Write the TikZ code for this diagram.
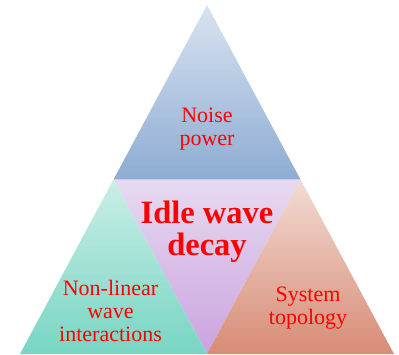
\documentclass[tikz,border=0pt]{standalone}
\usepackage{fontspec}
\setmainfont{Liberation Serif}
\definecolor{topA}{HTML}{D9E3F0}
\definecolor{topB}{HTML}{8DACD3}
\definecolor{midA}{HTML}{E7DAF0}
\definecolor{midB}{HTML}{CBA3DF}
\definecolor{leftA}{HTML}{CAEEE6}
\definecolor{leftB}{HTML}{78D5C3}
\definecolor{rightA}{HTML}{F2DBD3}
\definecolor{rightB}{HTML}{D78C76}
\definecolor{txt}{HTML}{FF0000}
\tikzset{
  lbl/.style={text=txt, align=center, inner sep=0pt, anchor=base,
    font=\fontsize{22}{23}\selectfont},
  lblbig/.style={text=txt, align=center, inner sep=0pt, anchor=base,
    font=\fontsize{32.5}{32}\selectfont\bfseries}
}
\begin{document}
\begin{tikzpicture}[x=1pt,y=-1pt]
\useasboundingbox (0,0) rectangle (399,354);
\coordinate (A) at (207,5);
\coordinate (L) at (20,354);
\coordinate (R) at (394,354);
\coordinate (ML) at (113.5,179.5);
\coordinate (MR) at (300.5,179.5);
\coordinate (MB) at (207,354);
\shade[top color=topA, bottom color=topB] (A) -- (MR) -- (ML) -- cycle;
\shade[top color=midA, bottom color=midB] (ML) -- (MR) -- (MB) -- cycle;
\shade[top color=leftA, bottom color=leftB] (ML) -- (MB) -- (L) -- cycle;
\shade[top color=rightA, bottom color=rightB] (MR) -- (R) -- (MB) -- cycle;
\node[lbl] (noise) at (207,145) {Noise\\power};
\node[lblbig] (idle) at (207,255) {Idle wave\\decay};
\node[lbl] (nonlin) at (110.5,341.5) {Non-linear\\wave\\interactions};
\node[lbl] (system) at (308,324) {System\\topology};
\end{tikzpicture}
\end{document}
